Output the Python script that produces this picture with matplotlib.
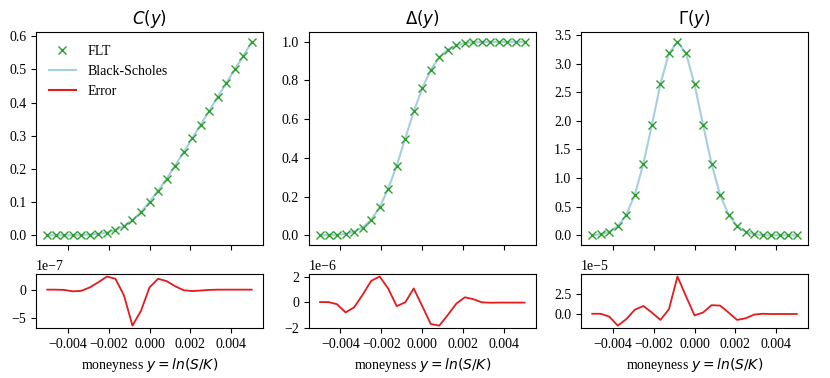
import numpy as np
import matplotlib
matplotlib.use("Agg")
import matplotlib.pyplot as plt

plt.rcParams['font.family'] = ['Liberation Serif', 'DejaVu Serif']
plt.rcParams['mathtext.fontset'] = 'dejavusans'
plt.rcParams['font.size'] = 10

# moneyness grid
y = np.linspace(-0.005, 0.005, 25)

call_price = [0.0, 0.0, 0.0, 0.0, 0.001, 0.002, 0.004, 0.008, 0.016, 0.028,
              0.046, 0.070, 0.100, 0.134, 0.170, 0.210, 0.250, 0.292, 0.333,
              0.375, 0.417, 0.458, 0.500, 0.540, 0.583]
delta = [0.0, 0.001, 0.003, 0.007, 0.018, 0.040, 0.080, 0.145, 0.240, 0.360,
         0.500, 0.640, 0.760, 0.855, 0.920, 0.960, 0.982, 0.993, 0.997, 0.999,
         1.0, 1.0, 1.0, 1.0, 1.0]
gamma = [0.0, 0.02, 0.06, 0.16, 0.36, 0.71, 1.25, 1.93, 2.64, 3.18, 3.38,
         3.18, 2.64, 1.93, 1.25, 0.71, 0.36, 0.16, 0.06, 0.02, 0.0, 0.0, 0.0,
         0.0, 0.0]

# errors FLT - Black-Scholes
err_call = np.array([0.0, 0.0, -0.05, -0.3, -0.2, 0.4, 1.3, 2.3, 1.9, -1.0,
                     -6.3, -3.7, 0.4, 1.9, 1.5, 0.6, -0.1, -0.25, -0.15, -0.05,
                     0.0, 0.0, 0.0, 0.0, 0.0]) * 1e-7
err_delta = np.array([0.02, 0.02, -0.15, -0.8, -0.4, 0.6, 1.7, 2.05, 1.1, -0.3,
                      0.0, 1.1, -0.3, -1.72, -1.85, -1.0, -0.1, 0.4, 0.25, 0.0,
                      -0.03, -0.02, -0.02, -0.02, -0.02]) * 1e-6
err_gamma = np.array([0.05, 0.05, -0.3, -1.4, -0.6, 0.55, 1.0, 0.2, -0.7, 0.6,
                      4.6, 2.2, -0.15, 0.2, 1.1, 1.05, 0.2, -0.7, -0.5, -0.05,
                      0.05, 0.02, 0.02, 0.02, 0.02]) * 1e-5

titles = [r'$C(y)$', r'$\Delta(y)$', r'$\Gamma(y)$']
values = [call_price, delta, gamma]
errors = [err_call, err_delta, err_gamma]
top_ticks = [np.arange(0, 0.61, 0.1), np.arange(0, 1.01, 0.2), np.arange(0, 3.51, 0.5)]
err_ticks = [[-5e-7, 0], [-2e-6, 0, 2e-6], [0, 2.5e-5]]
x_ticks = [-0.004, -0.002, 0.0, 0.002, 0.004]

fig = plt.figure(figsize=(8.3, 3.78), dpi=100)
lefts = [0.0434, 0.372, 0.700]
width = 0.2735

for i in range(3):
    ax = fig.add_axes([lefts[i], 0.352, width, 0.563])
    ax_err = fig.add_axes([lefts[i], 0.132, width, 0.143], sharex=ax)

    ax.plot(y, values[i], 'x', color='tab:green', ms=6, label='FLT', zorder=3)
    ax.plot(y, values[i], '-', color='#a6cee3', lw=1.5, label='Black-Scholes')
    ax.plot([], [], '-', color='#e41a1c', label='Error')
    ax.set_title(titles[i], fontsize=12)
    ax.set_yticks(top_ticks[i])
    ax.tick_params(labelbottom=False)

    ax_err.plot(y, errors[i], '-', color='#e41a1c', lw=1.3)
    ax_err.set_xlabel(r'moneyness $y = ln(S/K)$')
    ax_err.set_yticks(err_ticks[i])
    ax_err.set_xticks(x_ticks)
    ax_err.set_xlim(-0.00555, 0.00555)

    if i == 0:
        ax.legend(frameon=False, loc='upper left')

fig.savefig('out.png', dpi=100)
